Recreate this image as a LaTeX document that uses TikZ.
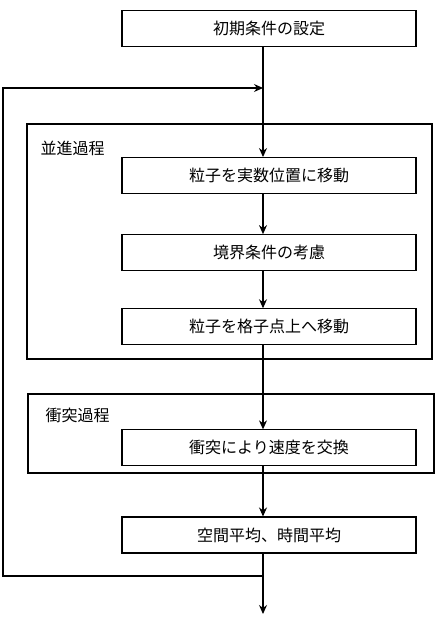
\documentclass[tikz,border=0pt]{standalone}
\usepackage{fontspec}
\usepackage{tikz}
\usetikzlibrary{arrows.meta,positioning}
\newfontfamily\jpfont{Noto Sans CJK JP}
\tikzset{
  stepbox/.style={rectangle,draw,minimum width=294pt,minimum height=36pt,
    inner sep=0pt,font=\jpfont\fontsize{16}{18}\selectfont},
  groupbox/.style={rectangle,draw,inner sep=0pt},
  grouplabel/.style={anchor=west,inner sep=0pt,font=\jpfont\fontsize{16}{18}\selectfont},
  arrow/.style={-{Stealth[length=9pt,width=8pt]}}
}

\begin{document}
\begin{tikzpicture}[x=1pt,y=-1pt,line width=1.1pt]
  \useasboundingbox (0,0) rectangle (436,618);
  % process frames
  \node[groupbox,minimum width=405pt,minimum height=235pt] (trans) at (229.5,241.5) {};
  \node[groupbox,minimum width=406pt,minimum height=79pt] (coll) at (231,433.5) {};
  \node[grouplabel] (transLbl) at (40,148) {並進過程};
  \node[grouplabel] (collLbl) at (45,415) {衝突過程};
  % steps
  \node[stepbox] (init) at (269,28.5) {初期条件の設定};
  \node[stepbox, below=110pt of init] (move) {粒子を実数位置に移動};
  \node[stepbox, below=40pt of move] (bound) {境界条件の考慮};
  \node[stepbox, below=37pt of bound] (lattice) {粒子を格子点上へ移動};
  \node[stepbox, below=84pt of lattice] (swap) {衝突により速度を交換};
  \node[stepbox, below=50pt of swap] (avg) {空間平均、時間平均};
  % main line and loop
  \coordinate (spine) at (263,0);
  \coordinate (loopIn) at (263,88);
  \coordinate (loopOut) at (263,576);
  \coordinate (loopLeft) at (3,576);
  \coordinate (finish) at (263,614);
  \draw[arrow] (init.south -| spine) -- (move.north -| spine);
  \draw[arrow] (move.south -| spine) -- (bound.north -| spine);
  \draw[arrow] (bound.south -| spine) -- (lattice.north -| spine);
  \draw[arrow] (lattice.south -| spine) -- (swap.north -| spine);
  \draw[arrow] (swap.south -| spine) -- (avg.north -| spine);
  \draw[arrow] (avg.south -| spine) -- (finish);
  \draw[arrow] (loopOut) -- (loopLeft) |- (loopIn);
\end{tikzpicture}
\end{document}
